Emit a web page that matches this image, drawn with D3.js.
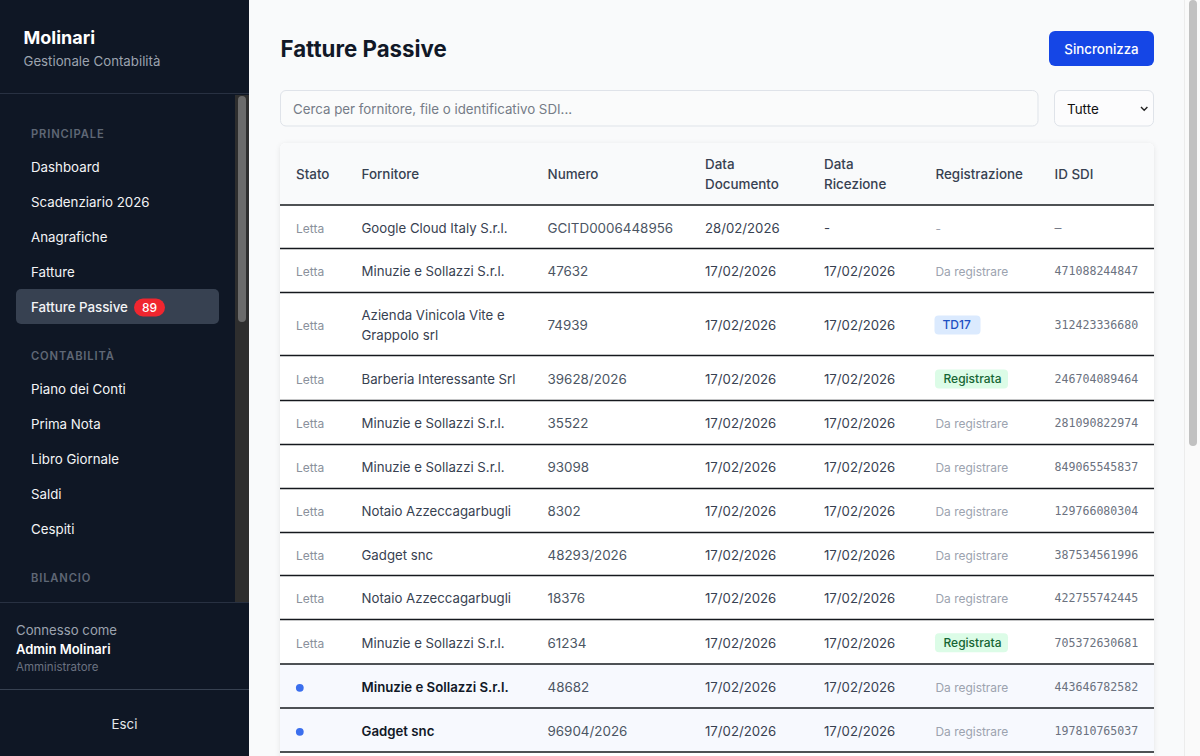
<!DOCTYPE html>
<html><head><meta charset="utf-8">
<script src="https://cdn.jsdelivr.net/npm/d3@7"></script>
<style>html,body{margin:0;padding:0;background:#f9fafb;overflow:hidden}svg{display:block;font-family:Inter,sans-serif}</style>
</head><body><svg id="c" width="1200" height="756"></svg>
<script>
const navGroups=["PRINCIPALE","CONTABILITÀ","BILANCIO"];
const navPrincipale=["Dashboard","Scadenziario 2026","Anagrafiche","Fatture","Fatture Passive"];
const navContabilita=["Piano dei Conti","Prima Nota","Libro Giornale","Saldi","Cespiti"];
const columns=["Stato","Fornitore","Numero","Data Documento","Data Ricezione","Registrazione","ID SDI"];
const stato=["Letta","Letta","Letta","Letta","Letta","Letta","Letta","Letta","Letta","Letta","","",""];
const fornitori=["Google Cloud Italy S.r.l.","Minuzie e Sollazzi S.r.l.","Azienda Vinicola Vite e|Grappolo srl","Barberia Interessante Srl","Minuzie e Sollazzi S.r.l.","Minuzie e Sollazzi S.r.l.","Notaio Azzeccagarbugli","Gadget snc","Notaio Azzeccagarbugli","Minuzie e Sollazzi S.r.l.","Minuzie e Sollazzi S.r.l.","Gadget snc"];
const numeri=["GCITD0006448956","47632","74939","39628/2026","35522","93098","8302","48293/2026","18376","61234","48682","96904/2026"];
const dateDoc=["28/02/2026","17/02/2026","17/02/2026","17/02/2026","17/02/2026","17/02/2026","17/02/2026","17/02/2026","17/02/2026","17/02/2026","17/02/2026","17/02/2026"];
const dateRic=["-","17/02/2026","17/02/2026","17/02/2026","17/02/2026","17/02/2026","17/02/2026","17/02/2026","17/02/2026","17/02/2026","17/02/2026","17/02/2026"];
const registrazioni=["-","Da registrare","TD17","Registrata","Da registrare","Da registrare","Da registrare","Da registrare","Da registrare","Registrata","Da registrare","Da registrare"];
const idSdi=["–","471088244847","312423336680","246704089464","281090822974","849065545837","129766080304","387534561996","422755742445","705372630681","443646782582","197810765037"];
const rowLines=[205,248.5,292.5,355.5,400.5,444.5,488.5,532.5,575.5,619.5,664,708,752];

const svg=d3.select("#c");
const W=1200,H=756;
const t=(g,x,y,s,size,fill,weight,extra)=>{const e=g.append("text").attr("x",x).attr("y",y).attr("font-size",size).attr("fill",fill).attr("font-weight",weight||400).text(s);if(extra)extra(e);return e;};
const rect=(g,x,y,w,h,fill,r)=>g.append("rect").attr("x",x).attr("y",y).attr("width",w).attr("height",h).attr("fill",fill).attr("rx",r||0);

/* main */
const main=svg.append("g");
rect(main,249,0,951,H,"#f9fafb");
t(main,280.5,57,"Fatture Passive",22.25,"#111827",700);
rect(main,1049,31,105,35,"#1546e6",6);
t(main,1101.5,54,"Sincronizza",13.3,"#fff",500,e=>e.attr("text-anchor","middle"));
main.append("rect").attr("x",280.5).attr("y",90.5).attr("width",757.5).attr("height",35.5).attr("rx",5.5).attr("fill","#fafbfb").attr("stroke","#dfe3e9");
t(main,293,114,"Cerca per fornitore, file o identificativo SDI...",13.3,"#757c87");
main.append("rect").attr("x",1054.5).attr("y",90.5).attr("width",99).attr("height",35.5).attr("rx",5.5).attr("fill","#fcfcfd").attr("stroke","#dfe3e9");
t(main,1067,114,"Tutte",13.4,"#111");
main.append("path").attr("d","M1141 107l3.2 3.2 3.2-3.2").attr("fill","none").attr("stroke","#222").attr("stroke-width",1.4);

/* table */
const defs=svg.append("defs");
const f=defs.append("filter").attr("id","sh").attr("x","-5%").attr("y","-5%").attr("width","110%").attr("height","110%");
f.append("feDropShadow").attr("dx",0).attr("dy",1).attr("stdDeviation",2.5).attr("flood-color","#000").attr("flood-opacity",.09);
const tbl=svg.append("g");
tbl.append("rect").attr("x",280).attr("y",143).attr("width",874).attr("height",640).attr("rx",6).attr("fill","#fff").attr("filter","url(#sh)");
tbl.append("path").attr("d","M280 205V149a6 6 0 0 1 6-6H1148a6 6 0 0 1 6 6V205Z").attr("fill","#f9fafb");

const xCol=d3.scaleOrdinal().domain(columns).range([296,361.5,547.5,705,824,935.5,1054.5]);
const headFill="#374151";
columns.forEach(c=>{
  const parts=c.startsWith("Data ")?c.split(" "):[c];
  parts.forEach((p,i)=>t(tbl,xCol(c),(parts.length>1?169+i*20:178.6),p,13.4,headFill,500));
});
const rows=d3.range(fornitori.length);
const rowG=tbl.selectAll("g.r").data(rows).join("g").attr("class","r");
rowG.each(function(i){
  const g=d3.select(this),y0=rowLines[i],y1=rowLines[i+1],cy=(y0+y1)/2+1,base=cy+4.8;
  const unread=!stato[i];
  if(unread) rect(g,280,y0,874,y1-y0,"#f7f9fe");
  if(unread) g.append("circle").attr("cx",xCol("Stato")+3.8).attr("cy",cy+.8).attr("r",3.9).attr("fill","#3b6fee");
  else t(g,xCol("Stato"),base,stato[i],12,"#8a919c");
  const ls=fornitori[i].split("|");
  ls.forEach((l,k)=>t(g,xCol("Fornitore"),base-(ls.length-1)*10+k*20,l,13.22,unread?"#111827":"#374151",unread?600:400));
  t(g,xCol("Numero"),base,numeri[i],13.4,"#4b5563");
  t(g,xCol("Data Documento"),base,dateDoc[i],13.2,"#374151");
  t(g,xCol("Data Ricezione"),base,dateRic[i],13.2,"#374151");
  const r=registrazioni[i],rx=xCol("Registrazione");
  if(r==="TD17"){rect(g,rx-1,cy-9.5,46,19,"#dbeafe",4);t(g,rx+7,base-.5,r,12,"#1e4fc2",500);}
  else if(r==="Registrata"){rect(g,rx-.5,cy-9.5,73,19,"#dcfce7",4);t(g,rx+8,base-.5,r,12,"#166534",500);}
  else t(g,rx,base,r,11.95,"#9ca3af");
  t(g,xCol("ID SDI"),base-1,idSdi[i],12,"#6b7280").attr("font-family","'DejaVu Sans Mono',monospace").attr("font-size",11.6);
});
tbl.selectAll("line.l").data(rowLines).join("line").attr("x1",280).attr("x2",1154).attr("y1",d=>d).attr("y2",d=>d).attr("stroke","#15181d").attr("stroke-width",1.3);

/* main scrollbar */
rect(svg,1184,0,16,H,"#fafafa");
rect(svg,1184,0,1,H,"#ececec");
rect(svg,1189,0,8,446,"#c1c1c1",4);

/* sidebar */
const side=svg.append("g");
rect(side,0,0,249,H,"#0f1725");
rect(side,235,95,14,507,"#2e2e2e");
rect(side,238,96,8,226,"#6b6b6b",4);
rect(side,0,93,249,1,"#283142");
rect(side,0,602,249,1,"#283142");
rect(side,0,689,249,1,"#374151");
t(side,23.5,44,"Molinari",18,"#fff",700);
t(side,23.5,66,"Gestionale Contabilità",13.25,"#9ca3af");
const navLabel=(s,y)=>t(side,31,y,s,11.2,"#5f6775",600).attr("letter-spacing",.85);
navLabel(navGroups[0],138);navLabel(navGroups[1],360);navLabel(navGroups[2],582);
rect(side,16,289,203,35,"#374151",5);
const navY=d3.scaleLinear().domain([0,4]).range([172,312]);
navPrincipale.forEach((s,i)=>t(side,31,navY(i),s,13.3,"#f3f4f6",i===4?500:400));
const navY2=d3.scaleLinear().domain([0,4]).range([394,534]);
navContabilita.forEach((s,i)=>t(side,31,navY2(i),s,13.3,"#f3f4f6"));
rect(side,134,298.5,31,18,"#f0262f",9);
t(side,149.5,312,"89",12,"#fff",500,e=>e.attr("text-anchor","middle"));
t(side,16,634.5,"Connesso come",13.2,"#9ca3af");
t(side,16,654,"Admin Molinari",13,"#fff",600);
t(side,16,670.5,"Amministratore",11.5,"#6b7280");
t(side,124.5,728.5,"Esci",13.3,"#e5e7eb",400,e=>e.attr("text-anchor","middle"));
</script></body></html>
